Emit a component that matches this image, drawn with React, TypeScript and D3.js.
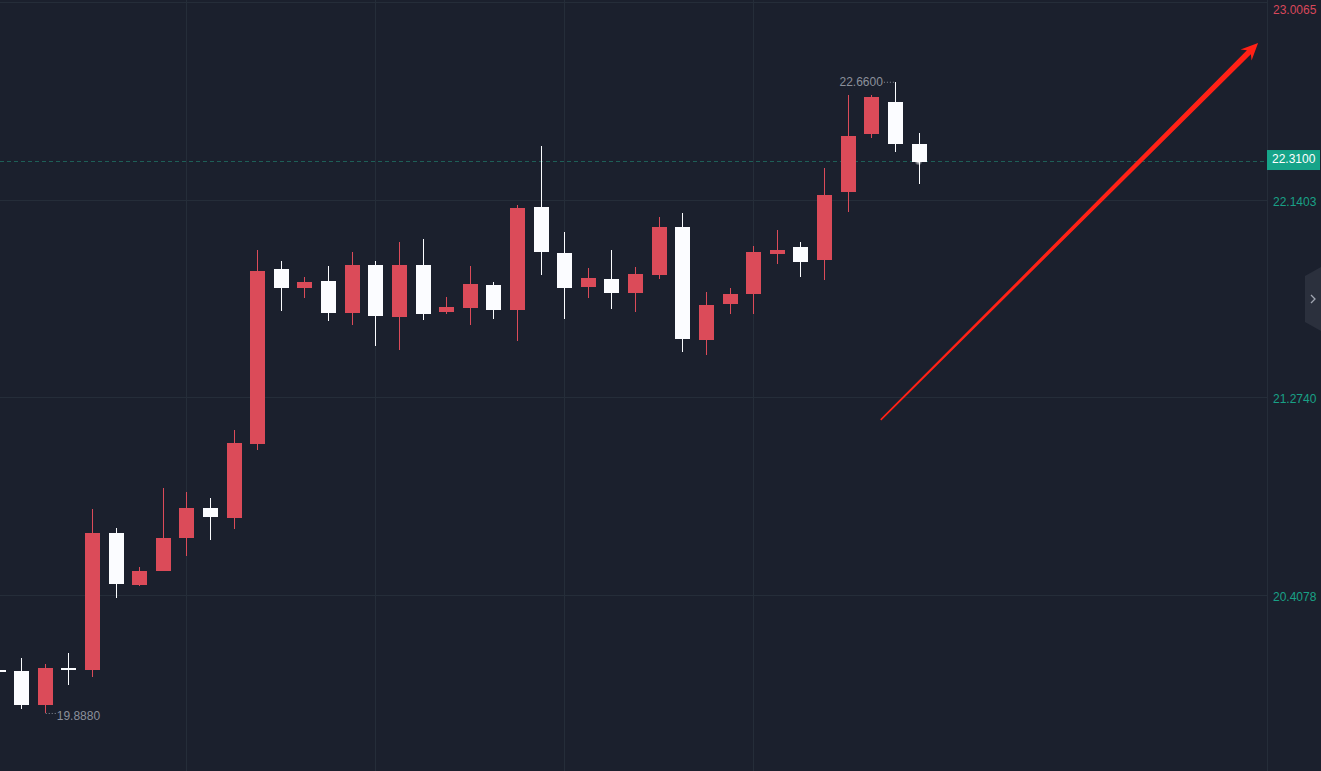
import React from "react";
import * as d3 from "d3";

// candle index 0 is the half-cut doji at the left edge
const opens = [
  20.078, 20.074, 19.925, 20.086, 20.079, 20.68, 20.452, 20.514, 20.659, 20.79,
  20.747, 21.072, 21.838, 21.756, 21.786, 21.647, 21.856, 21.629, 21.856, 21.651,
  21.669, 21.768, 21.658, 22.11, 21.909, 21.761, 21.795, 21.734, 21.813, 22.023,
  21.528, 21.686, 21.73, 21.906, 21.935, 21.878, 22.176, 22.432, 22.571, 22.387,
];
const highs = [
  20.09, 20.13, 20.105, 20.153, 20.785, 20.702, 20.531, 20.877, 20.86, 20.833,
  21.132, 21.922, 21.873, 21.803, 21.852, 21.913, 21.873, 21.957, 21.97, 21.715,
  21.852, 21.781, 22.119, 22.378, 22.001, 21.843, 21.922, 21.847, 22.067, 22.084,
  21.737, 21.755, 21.939, 22.01, 21.957, 22.282, 22.602, 22.602, 22.66, 22.435,
];
const lows = [
  20.062, 19.908, 19.888, 20.014, 20.049, 20.396, 20.447, 20.512, 20.579, 20.649,
  20.699, 21.045, 21.655, 21.712, 21.612, 21.594, 21.502, 21.484, 21.616, 21.642,
  21.594, 21.62, 21.524, 21.813, 21.62, 21.712, 21.664, 21.651, 21.796, 21.475,
  21.462, 21.642, 21.642, 21.862, 21.805, 21.791, 22.09, 22.415, 22.353, 22.213,
];
const closes = [
  20.076, 19.925, 20.087, 20.079, 20.68, 20.456, 20.513, 20.658, 20.79, 20.751,
  21.075, 21.83, 21.756, 21.781, 21.647, 21.856, 21.633, 21.856, 21.642, 21.672,
  21.773, 21.66, 22.106, 21.913, 21.756, 21.799, 21.734, 21.816, 22.023, 21.533,
  21.68, 21.729, 21.913, 21.922, 21.869, 22.163, 22.422, 22.593, 22.388, 22.31,
];

const priceTicks = ["23.0065", "22.1403", "21.2740", "20.4078"];
const gridCandles = [8, 16, 24, 32];
const lastPrice = "22.3100";
const maxLabel = { i: 38, value: "22.6600" };
const minLabel = { i: 2, value: "19.8880" };
// hand-drawn arrow, in chart units (candle index, price)
const arrowFrom = { i: 37.4, p: 21.176 };
const arrowTo = { i: 53.38, p: 22.83 };

const W = 1321;
const H = 771;
const axisX = 1267;
const bg = "#1b202d";
const gridColor = "#252d39";
const upColor = "#db4b59";
const downColor = "#fbfcff";
const teal = "#19a086";
const font = "'Liberation Sans', Arial, sans-serif";

const candles = opens.map((o, i) => ({
  i,
  o,
  h: highs[i],
  l: lows[i],
  c: closes[i],
}));

const x = d3.scaleLinear().domain([0, 39]).range([-2.5, 918.5]);
const y = d3
  .scaleLinear()
  .domain([+priceTicks[3], +priceTicks[0]])
  .range([595, 2.8]);
const bodyW = 15;

const ArrowMark = () => {
  const x0 = x(arrowFrom.i);
  const y0 = y(arrowFrom.p);
  const x1 = x(arrowTo.i);
  const y1 = y(arrowTo.p);
  const len = Math.hypot(x1 - x0, y1 - y0);
  const ux = (x1 - x0) / len;
  const uy = (y1 - y0) / len;
  const nx = -uy;
  const ny = ux;
  const pt = (along: number, side: number) =>
    [x0 + ux * along + nx * side, y0 + uy * along + ny * side].join(",");
  const pts = [
    pt(0, -0.8),
    pt(len - 13, -2.8),
    pt(len - 17, -7.8),
    pt(len, 0),
    pt(len - 17, 7.8),
    pt(len - 13, 2.8),
    pt(0, 0.8),
  ];
  return <polygon points={pts.join(" ")} fill="#ff2116" />;
};

const App: React.FC = () => {
  const lastY = y(+lastPrice);
  const maxX = x(maxLabel.i);
  const maxY = y(highs[maxLabel.i]);
  const minX = x(minLabel.i);
  const minY = y(lows[minLabel.i]);

  return (
    <div style={{ position: "fixed", left: 0, top: 0, width: W, height: H, background: bg }}>
      <svg width={W} height={H} style={{ display: "block", fontFamily: font }}>
        <defs>
          <radialGradient id="glow">
            <stop offset="0%" stopColor="#ffffff" stopOpacity={1} />
            <stop offset="100%" stopColor="#ffffff" stopOpacity={0} />
          </radialGradient>
        </defs>
        <rect width={W} height={H} fill={bg} />

        {/* grid */}
        <g shapeRendering="crispEdges" stroke={gridColor} strokeWidth={1}>
          {priceTicks.map((t) => (
            <line key={t} x1={0} x2={axisX} y1={y(+t)} y2={y(+t)} />
          ))}
          {gridCandles.map((g) => (
            <line key={g} x1={x(g)} x2={x(g)} y1={0} y2={H} />
          ))}
          <line x1={axisX} x2={axisX} y1={0} y2={H} />
        </g>

        {/* last price line */}
        <line
          x1={0}
          x2={axisX}
          y1={lastY}
          y2={lastY}
          stroke="#1e5f57"
          strokeWidth={1}
          strokeDasharray="4 3"
          shapeRendering="crispEdges"
        />

        {/* candles */}
        <g shapeRendering="crispEdges">
          {candles.map((d) => {
            const up = d.c >= d.o;
            const col = up ? upColor : downColor;
            const cx = Math.round(x(d.i));
            const top = y(Math.max(d.o, d.c));
            const bot = y(Math.min(d.o, d.c));
            return (
              <g key={d.i}>
                <rect x={cx - 0.5} y={y(d.h)} width={1} height={y(d.l) - y(d.h)} fill={col} />
                <rect
                  x={cx - bodyW / 2}
                  y={top}
                  width={bodyW}
                  height={Math.max(bot - top, 1.6)}
                  fill={col}
                />
              </g>
            );
          })}
        </g>

        <circle cx={x(39)} cy={lastY} r={4} fill="url(#glow)" />

        {/* high / low marks */}
        <line
          x1={maxX - 1}
          x2={maxX - 11}
          y1={maxY + 0.5}
          y2={maxY + 0.5}
          stroke="#8b909b"
          strokeDasharray="1 2"
        />
        <text x={maxX - 12} y={maxY + 1.5} fontSize={12} fill="#8b909b" textAnchor="end" dominantBaseline="middle">
          {maxLabel.value}
        </text>
        <line
          x1={minX + 1}
          x2={minX + 11}
          y1={minY}
          y2={minY}
          stroke="#8b909b"
          strokeDasharray="1 2"
        />
        <text x={minX + 12} y={minY + 3} fontSize={12} fill="#8b909b" dominantBaseline="middle">
          {minLabel.value}
        </text>

        <ArrowMark />

        {/* price axis */}
        <g fontSize={12}>
          {priceTicks.map((t, k) => (
            <text
              key={t}
              x={axisX + 6}
              y={k === 0 ? 11 : y(+t) + 2.5}
              fill={k === 0 ? "#d8475a" : teal}
              dominantBaseline="middle"
            >
              {t}
            </text>
          ))}
          <rect x={axisX} y={lastY - 11.5} width={53} height={20} fill="#16a489" />
          <text x={axisX + 5} y={lastY - 1.5} fill="#ffffff" dominantBaseline="middle">
            {lastPrice}
          </text>
        </g>

        {/* side collapse tab */}
        <path d="M1305,276 L1321,267 L1321,331 L1305,322 Z" fill="#2b303d" />
        <path d="M1311,295 L1315,299 L1311,303" fill="none" stroke="#a1a6b2" strokeWidth={1.3} />
      </svg>
    </div>
  );
};

export default App;
